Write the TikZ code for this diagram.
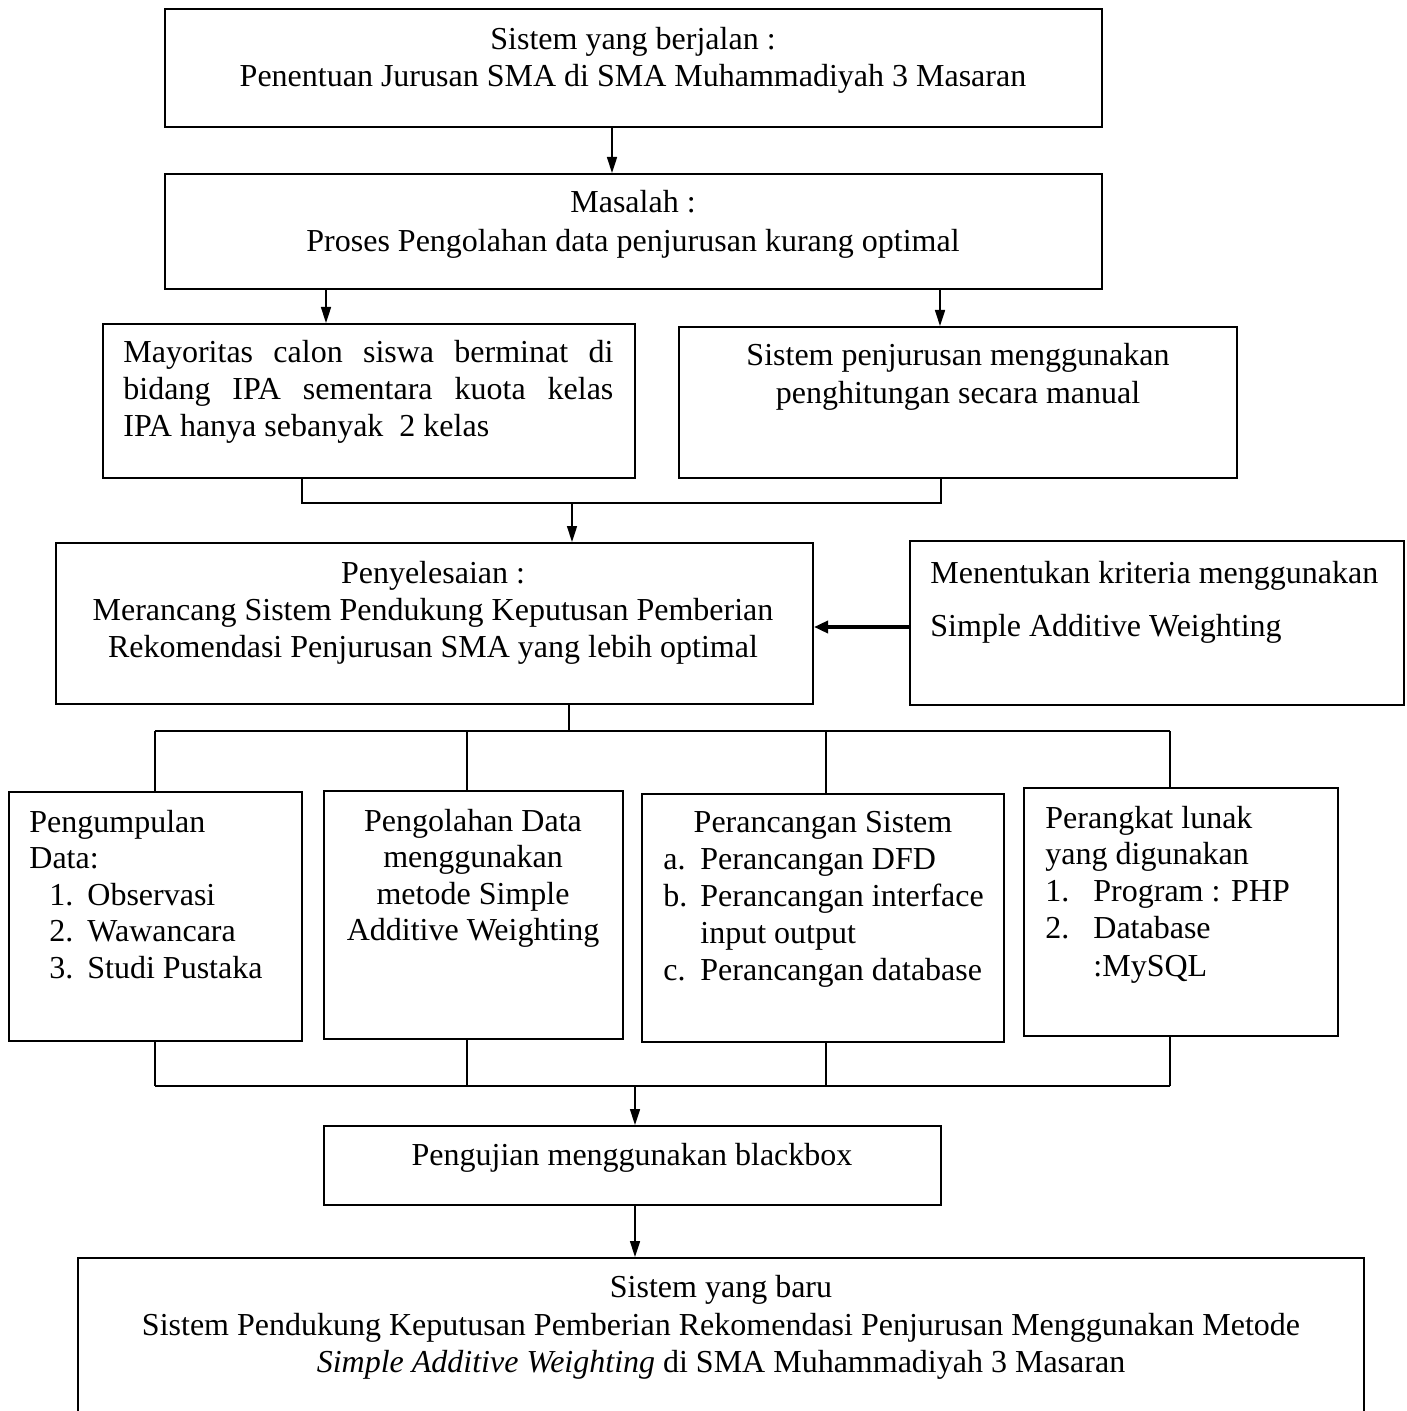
\documentclass[tikz,border=0pt]{standalone}
\usepackage{fontspec}
\setmainfont{Liberation Serif}
\usetikzlibrary{arrows.meta,fit,calc}
\begin{document}
\begin{tikzpicture}[x=0.5pt,y=-0.5pt,
 box/.style={draw,line width=1pt,inner sep=0pt},
 txt/.style={inner sep=0pt,anchor=base,font=\fontsize{16}{18.5}\selectfont},
 txtl/.style={txt,anchor=base west},
 conn/.style={line width=0.8pt},
 arr/.style={conn,-{Triangle[length=8pt,width=5pt]}},
 thickarr/.style={line width=1.7pt,-{Triangle[length=7pt,width=6pt]}},
]
\useasboundingbox (0,0) rectangle (1406,1411);
\clip (0,0) rectangle (1406,1411);
% boxes
\node[box,fit={(165,9) (1102,127)}] (b1) {};
\node[box,fit={(165,174) (1102,289)}] (b2) {};
\node[box,fit={(103,324) (635,478)}] (b3) {};
\node[box,fit={(679,327) (1237,478)}] (b4) {};
\node[box,fit={(56,543) (813,704)}] (b5) {};
\node[box,fit={(910,541) (1404,705)}] (b6) {};
\node[box,fit={(9,792) (302,1041)}] (b7) {};
\node[box,fit={(324,791) (623,1039)}] (b8) {};
\node[box,fit={(642,794) (1004,1042)}] (b9) {};
\node[box,fit={(1024,788) (1338,1036)}] (b10) {};
\node[box,fit={(324,1126) (941,1205)}] (b11) {};
\node[box,fit={(78,1258) (1364,1450)}] (b12) {};
% texts
\node[txt] (t1a) at (633,50) {Sistem yang berjalan :};
\node[txt] (t1b) at (633,87) {Penentuan Jurusan SMA di SMA Muhammadiyah 3 Masaran};
\node[txt] (t2a) at (633,213) {Masalah :};
\node[txt] (t2b) at (633,252) {Proses Pengolahan data penjurusan kurang optimal};
\node[txtl] (t3a) at (123,363) {\makebox[245pt][s]{Mayoritas calon siswa berminat di}};
\node[txtl] (t3b) at (123,400) {\makebox[245pt][s]{bidang IPA sementara kuota kelas}};
\node[txtl] (t3c) at (123,437) {IPA hanya sebanyak\ \ 2 kelas};
\node[txt] (t4a) at (958,366) {Sistem penjurusan menggunakan};
\node[txt] (t4b) at (958,403) {penghitungan secara manual};
\node[txt] (t5a) at (433,583) {Penyelesaian :};
\node[txt] (t5b) at (433,620) {Merancang Sistem Pendukung Keputusan Pemberian};
\node[txt] (t5c) at (433,657) {Rekomendasi Penjurusan SMA yang lebih optimal};
\node[txtl] (t6a) at (930,583) {Menentukan kriteria menggunakan};
\node[txtl] (t6b) at (930,636) {Simple Additive Weighting};
% box 7
\node[txtl] (t7a) at (29,832) {Pengumpulan};
\node[txtl] (t7b) at (29,868) {Data:};
\node[txtl] (t7c) at (49,905) {1.};
\node[txtl] (t7d) at (87,905) {Observasi};
\node[txtl] (t7e) at (49,941) {2.};
\node[txtl] (t7f) at (87,941) {Wawancara};
\node[txtl] (t7g) at (49,978) {3.};
\node[txtl] (t7h) at (87,978) {Studi Pustaka};
% box 8
\node[txt] (t8a) at (473,831) {Pengolahan Data};
\node[txt] (t8b) at (473,867) {menggunakan};
\node[txt] (t8c) at (473,904) {metode Simple};
\node[txt] (t8d) at (473,940) {Additive Weighting};
% box 9
\node[txt] (t9a) at (823,832) {Perancangan Sistem};
\node[txtl] (t9b) at (663,869) {a.};
\node[txtl] (t9c) at (700,869) {Perancangan DFD};
\node[txtl] (t9d) at (663,906) {b.};
\node[txtl] (t9e) at (700,906) {Perancangan interface};
\node[txtl] (t9f) at (700,943) {input output};
\node[txtl] (t9g) at (663,980) {c.};
\node[txtl] (t9h) at (700,980) {Perancangan database};
% box 10
\node[txtl] (t10a) at (1045,828) {Perangkat lunak};
\node[txtl] (t10b) at (1045,864) {yang digunakan};
\node[txtl] (t10c) at (1045,901) {1.};
\node[txtl] (t10d) at (1093,901) {Program : PHP};
\node[txtl] (t10e) at (1045,938) {2.};
\node[txtl] (t10f) at (1093,938) {Database};
\node[txtl] (t10g) at (1093,976) {:MySQL};
% box 11, 12
\node[txt] (t11) at (632,1165) {Pengujian menggunakan blackbox};
\node[txt] (t12a) at (721,1297) {Sistem yang baru};
\node[txt] (t12b) at (721,1335) {Sistem Pendukung Keputusan Pemberian Rekomendasi Penjurusan Menggunakan Metode};
\node[txt] (t12c) at (721,1372) {\textit{Simple Additive Weighting} di SMA Muhammadiyah 3 Masaran};
% connectors
\coordinate (a1) at (612,127);
\draw[arr] (a1) -- (a1 |- b2.north);
\coordinate (a2) at (326,289);
\draw[arr] (a2) -- (a2 |- b3.north);
\coordinate (a3) at (940,289);
\draw[arr] (a3) -- (a3 |- b4.north);
\coordinate (m3) at (302,503);
\coordinate (m4) at (941,503);
\draw[conn] (m3 |- b3.south) -- (m3) -- (m4) -- (m4 |- b4.south);
\coordinate (a4) at (572,503);
\draw[arr] (a4) -- (a4 |- b5.north);
\coordinate (h6) at (910,627);
\draw[thickarr] (h6) -- (h6 -| b5.east);
% top bus
\coordinate (s5) at (569,731);
\coordinate (p7) at (155,731);
\coordinate (p8) at (467,731);
\coordinate (p9) at (826,731);
\coordinate (p10) at (1170,731);
\draw[conn] (s5 |- b5.south) -- (s5);
\draw[conn] (p7) -- (p10);
\draw[conn] (p7) -- (p7 |- b7.north);
\draw[conn] (p8) -- (p8 |- b8.north);
\draw[conn] (p9) -- (p9 |- b9.north);
\draw[conn] (p10) -- (p10 |- b10.north);
% bottom bus
\coordinate (q7) at (155,1086);
\coordinate (q8) at (467,1086);
\coordinate (q9) at (826,1086);
\coordinate (q10) at (1170,1086);
\draw[conn] (q7) -- (q10);
\draw[conn] (q7 |- b7.south) -- (q7);
\draw[conn] (q8 |- b8.south) -- (q8);
\draw[conn] (q9 |- b9.south) -- (q9);
\draw[conn] (q10 |- b10.south) -- (q10);
\coordinate (q) at (635,1086);
\draw[arr] (q) -- (q |- b11.north);
\coordinate (r) at (635,1205);
\draw[arr] (r) -- (r |- b12.north);
\end{tikzpicture}
\end{document}
